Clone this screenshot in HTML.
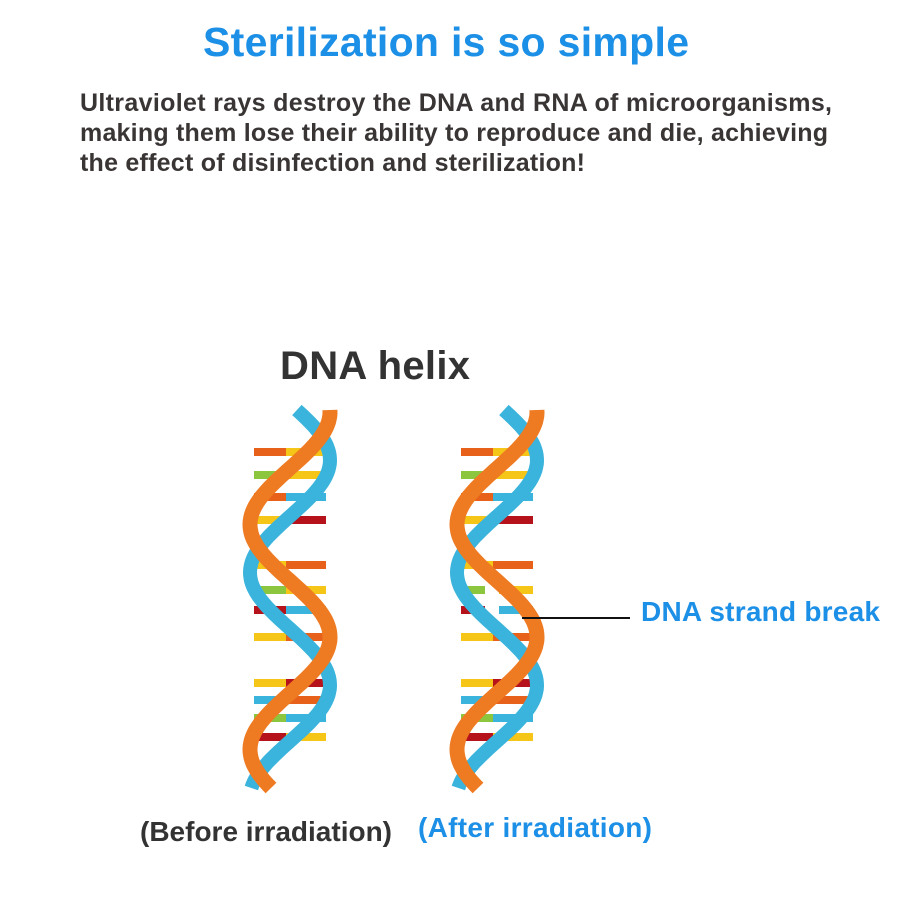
<!DOCTYPE html>
<html><head><meta charset="utf-8"><style>
body{margin:0;width:900px;height:900px;background:#fff;overflow:hidden;font-family:"Liberation Sans",sans-serif}
</style></head><body>
<svg id="s" width="900" height="900" xmlns="http://www.w3.org/2000/svg">
<text x="446" y="56" text-anchor="middle" font-size="41" font-weight="bold" fill="#1c8fe6" font-family="Liberation Sans, sans-serif" textLength="486">Sterilization is so simple</text>
<g font-size="25" font-weight="bold" fill="#3a3535" font-family="Liberation Sans, sans-serif">
<text x="80" y="111" textLength="752">Ultraviolet rays destroy the DNA and RNA of microorganisms,</text>
<text x="80" y="141" textLength="748">making them lose their ability to reproduce and die, achieving</text>
<text x="80" y="171" textLength="505">the effect of disinfection and sterilization!</text>
</g>
<text x="280" y="379" font-size="40" font-weight="bold" fill="#333" font-family="Liberation Sans, sans-serif" textLength="190">DNA helix</text>
<g id="h"></g>
<line x1="522" y1="618" x2="630" y2="618" stroke="#111" stroke-width="2"/>
<text x="641" y="621" font-size="28" font-weight="bold" fill="#1c8fe6" font-family="Liberation Sans, sans-serif" textLength="239">DNA strand break</text>
<text x="140" y="841" font-size="28" font-weight="bold" fill="#333" font-family="Liberation Sans, sans-serif" textLength="252">(Before irradiation)</text>
<text x="418" y="837" font-size="28" font-weight="bold" fill="#1c8fe6" font-family="Liberation Sans, sans-serif" textLength="234">(After irradiation)</text>
</svg>
<script>
var g=document.getElementById('h'),NS='http://www.w3.org/2000/svg';
function el(t,a){var e=document.createElementNS(NS,t);for(var k in a)e.setAttribute(k,a[k]);g.appendChild(e);return e;}
var P=225,A=40;
function ox(c,y){return c+A*Math.cos((y-412)/P*2*Math.PI);}
function bx(c,y){return c+A*Math.cos((y-460)/P*2*Math.PI);}
var rungs=[[452,'#e8611a','#f5c518'],[475,'#8cc63f','#f5c518'],[497,'#e8611a','#3ab4dc'],[520,'#f5c518','#b5121b'],[565,'#f5c518','#e8611a'],[590,'#8cc63f','#f5c518'],[610,'#b5121b','#3ab4dc'],[637,'#f5c518','#e8611a'],[683,'#f5c518','#b5121b'],[700,'#3ab4dc','#e8611a'],[718,'#8cc63f','#3ab4dc'],[737,'#b5121b','#f5c518']];
[[290,false],[497,true]].forEach(function(h){
 var c=h[0];
 rungs.forEach(function(r){
  var l=c-36,rr=c+36,m=c-4;
  if(h[1]&&(r[0]==590||r[0]==610)){
   el('rect',{x:l,y:r[0]-4,width:m-l-8,height:8,fill:r[1]});
   el('rect',{x:m+6,y:r[0]-4,width:rr-m-6,height:8,fill:r[2]});
  }else{
   el('rect',{x:l,y:r[0]-4,width:m-l,height:8,fill:r[1]});
   el('rect',{x:m,y:r[0]-4,width:rr-m,height:8,fill:r[2]});
  }
 });
 var po='',pb='';
 for(var y=410;y<=790;y+=3){po+=ox(c,y).toFixed(1)+','+y+' ';pb+=bx(c,y).toFixed(1)+','+y+' ';}
 el('polyline',{points:pb,fill:'none',stroke:'#3ab4dc','stroke-width':14});
 el('polyline',{points:po,fill:'none',stroke:'#ee7a22','stroke-width':15});
});
</script>
</body></html>
